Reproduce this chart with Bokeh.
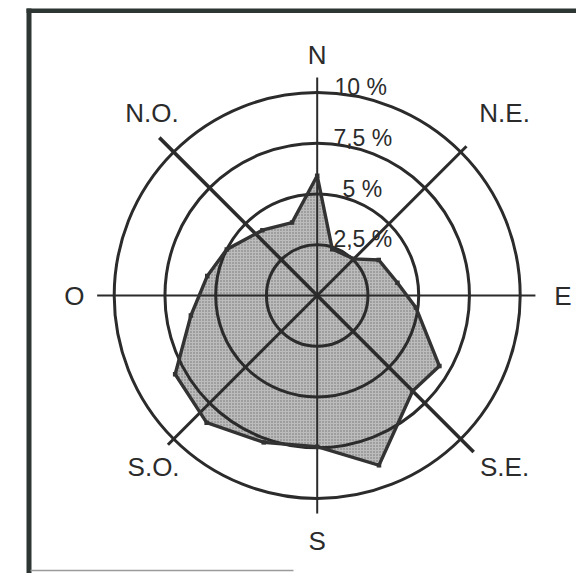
import numpy as np
from bokeh.plotting import figure
from bokeh.models import Range1d
from bokeh.core.properties import value
from bokeh.embed import file_html
from bokeh.resources import INLINE

# ---- data (wind rose: frequency by direction, %) ----
direction_deg = [0, 18, 45, 60, 81, 97, 120, 135, 160, 180, 200, 221, 241, 261, 280, 297, 320, 341]
frequency_pct = [5.9, 2.4, 2.55, 3.5, 4.0, 4.9, 6.95, 6.65, 8.9, 7.45, 7.7, 8.3, 8.0, 6.3, 5.5, 5.0, 4.2, 3.8]
ring_values = [2.5, 5, 7.5, 10]
ring_labels = ["2,5 %", "5 %", "7,5 %", "10 %"]
compass_labels = ["N", "N.E.", "E", "S.E.", "S", "S.O.", "O", "N.O."]
compass_deg = [0, 45, 90, 135, 180, 225, 270, 315]

# ---- layout / style ----
W, H = 576, 573
PX = 20.3                      # pixels per percent
cx_px, cy_px = 316.7, 295.0    # centre in canvas pixels
x0 = -cx_px / PX
x1 = x0 + W / PX
y1 = cy_px / PX
y0 = y1 - H / PX

def px2x(px):
    return x0 + px / PX

def px2y(py):
    return y1 - py / PX

spoke_len = [10.74, 10.4, 10.75, 10.9, 10.74, 10.4, 10.84, 11.0]
spoke_w = [2.0, 3.0, 2.0, 3.6, 2.0, 3.0, 2.0, 3.6]
label_xy = {"N": (0.0, 11.87), "N.E.": (9.23, 8.97), "E": (12.1, 0.0), "S.E.": (9.23, -8.47),
            "S": (0.0, -12.1), "S.O.": (-8.06, -8.47), "O": (-11.96, 0.0), "N.O.": (-8.14, 8.97)}
ring_label_dx = [0.8, 1.25, 0.8, 0.85]
ink = "#2b2b2b"

p = figure(width=W, height=H, output_backend="svg", toolbar_location=None,
           x_range=Range1d(x0, x1), y_range=Range1d(y0, y1),
           x_axis_location=None, y_axis_location=None, min_border=0,
           outline_line_color=None, background_fill_color="white",
           border_fill_color="white")
p.grid.visible = False

# polygon (data)
th = np.radians(direction_deg)
r = np.array(frequency_pct)
xs = list(r * np.sin(th))
ys = list(r * np.cos(th))
p.patch(xs, ys, fill_color="#bcbcbc", line_color=None,
        hatch_pattern="dot", hatch_color="#707070", hatch_scale=3, hatch_weight=1.2)

# rings
p.circle(x=[0] * len(ring_values), y=[0] * len(ring_values), radius=ring_values,
         fill_color=None, line_color=ink, line_width=3)

# spokes
for ang, ln, lw in zip(compass_deg, spoke_len, spoke_w):
    a = np.radians(ang)
    p.line([0, ln * np.sin(a)], [0, ln * np.cos(a)], line_color=ink, line_width=lw)

# polygon outline + vertex ticks
p.line(xs + [xs[0]], ys + [ys[0]], line_color="#333333", line_width=3.4, line_join="miter")
p.scatter(xs, ys, size=4.5, marker="square", fill_color="#333333", line_color=None)

# ring labels
for rv, lab, dx in zip(ring_values, ring_labels, ring_label_dx):
    p.text(x=[dx], y=[rv + 0.27], text=[lab], text_font=value("Liberation Sans"),
           text_font_size="23px", text_color=ink, text_align="left", text_baseline="middle")

# compass labels
for lab in compass_labels:
    lx, ly = label_xy[lab]
    p.text(x=[lx], y=[ly], text=[lab], text_font=value("Liberation Sans"),
           text_font_size="26px", text_color=ink, text_align="center", text_baseline="middle")

# frame of the scanned page
p.quad(left=[px2x(26.0)], right=[px2x(31.0)], top=[px2y(8)], bottom=[px2y(H)],
       fill_color="#2d3632", line_color=None)
p.quad(left=[px2x(26.0)], right=[px2x(W)], top=[px2y(8)], bottom=[px2y(12.6)],
       fill_color="#2d3632", line_color=None)
p.quad(left=[px2x(30)], right=[px2x(293)], top=[px2y(569.3)], bottom=[px2y(570.8)],
       fill_color="#9a9a9a", line_color=None)

open("out.html", "w").write(file_html(p, INLINE))
